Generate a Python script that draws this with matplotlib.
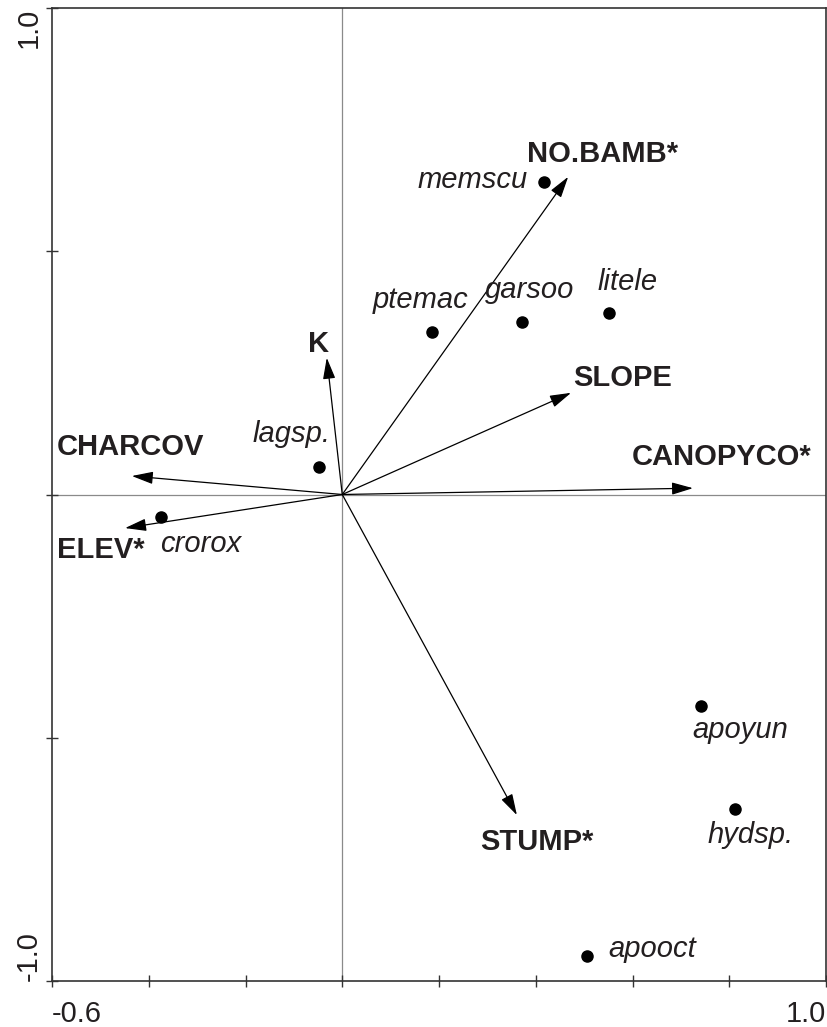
import numpy as np
import matplotlib.pyplot as plt

plt.rcParams['font.family'] = ['Liberation Sans', 'DejaVu Sans']

# environmental variables (biplot arrows)
env_names = ["NO.BAMB*", "SLOPE", "CANOPYCO*", "K", "CHARCOV", "ELEV*", "STUMP*"]
env_x = [0.467, 0.473, 0.725, -0.032, -0.435, -0.449, 0.361]
env_y = [0.653, 0.209, 0.013, 0.281, 0.038, -0.069, -0.659]

# species scores
sp_names = ["memscu", "ptemac", "garsoo", "litele", "lagsp.", "crorox",
            "apoyun", "hydsp.", "apooct"]
sp_x = [0.417, 0.186, 0.372, 0.551, -0.048, -0.375, 0.742, 0.812, 0.506]
sp_y = [0.642, 0.334, 0.355, 0.373, 0.057, -0.046, -0.435, -0.646, -0.949]

# label offsets in pixels (left / baseline of text relative to point)
env_off = [(-41, 15), (2, 7), (-61, 23), (-19, 6), (-75, 21), (-68, -30), (-37, -35)]
sp_off = [(-126, -6), (-60, 24), (-37, 24), (-11, 23), (-66, 25), (-1, -35),
          (-9, -32), (-28, -34), (21, -1)]

txt = '#231f20'
fs = 21

fig = plt.figure(figsize=(8.27, 10.27), dpi=100)
ax = fig.add_axes([52/827, 1 - 981/1027, 774/827, 973/1027])
ax.set_xlim(-0.6, 1.0)
ax.set_ylim(-1.0, 1.0)

ax.axhline(0, color='#8a8a8a', lw=0.9, zorder=1)
ax.axvline(0, color='#8a8a8a', lw=0.9, zorder=1)

for name, x, y, off in zip(env_names, env_x, env_y, env_off):
    ax.annotate("", xy=(x, y), xytext=(0, 0),
                arrowprops=dict(arrowstyle='-|>,head_length=1.3,head_width=0.38',
                                mutation_scale=10, lw=0.9, color='black',
                                shrinkA=0, shrinkB=0), zorder=3)
    ax.annotate(name, xy=(x, y), xytext=off, textcoords='offset pixels',
                ha='left', va='baseline', fontsize=fs, fontweight='bold', color=txt)

ax.plot(sp_x, sp_y, 'o', color='black', markersize=8, zorder=4)
for name, x, y, off in zip(sp_names, sp_x, sp_y, sp_off):
    ax.annotate(name, xy=(x, y), xytext=off, textcoords='offset pixels',
                ha='left', va='baseline', fontsize=fs, fontstyle='italic', color=txt)

# ticks: labels only at the ends
xt = np.round(np.arange(-0.6, 1.01, 0.2), 1)
ax.set_xticks(xt)
ax.set_xticklabels(['-0.6'] + [''] * (len(xt) - 2) + ['1.0'], fontsize=fs, color=txt)
yt = [-1.0, -0.5, 0.0, 0.5, 1.0]
ax.set_yticks(yt)
ax.set_yticklabels(['-1.0', '', '', '', '1.0'], fontsize=fs, color=txt,
                   rotation=90)
ax.tick_params(axis='both', direction='inout', length=8, width=1, color='#333333')
ax.tick_params(axis='x', pad=10)
ax.tick_params(axis='y', pad=3)
xl = ax.get_xticklabels()
xl[0].set_ha('left'); xl[-1].set_ha('right')
yl = ax.get_yticklabels()
yl[0].set_va('bottom'); yl[-1].set_va('top')

for s in ax.spines.values():
    s.set_color('#333333')
    s.set_linewidth(1.2)

fig.savefig('out.png', dpi=100)
